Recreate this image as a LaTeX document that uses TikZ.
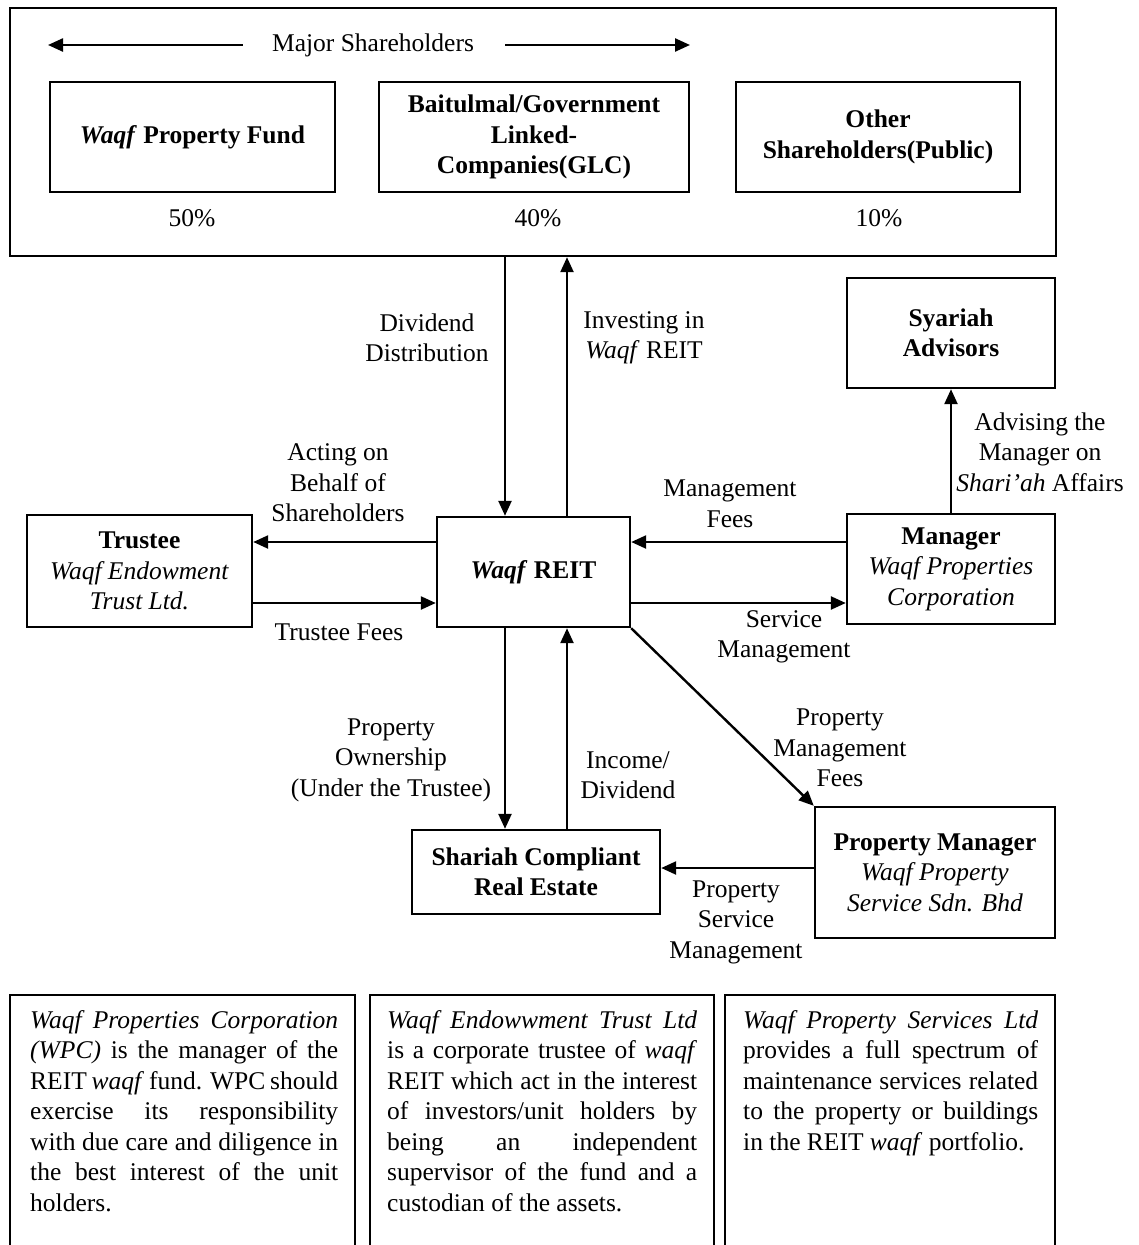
\documentclass[tikz,border=0pt]{standalone}
\usepackage{fontspec}
\setmainfont{Liberation Serif}
\usetikzlibrary{arrows.meta}
% one line of a justified paragraph, stretched to the given width
\newcommand\jline[2]{\makebox[#1][s]{#2}}
\begin{document}
\begin{tikzpicture}[x=1pt,y=-1pt,
  txt/.style={font=\fontsize{25.5}{30.5}\selectfont, inner sep=0pt, align=center},
  bftxt/.style={font=\fontsize{25.5}{30.5}\selectfont\bfseries, inner sep=0pt, align=center},
  bx/.style 2 args={draw, line width=2.4pt, minimum width=#1, minimum height=#2},
  arr/.style={line width=2.4pt, -{Triangle[length=15pt,width=13pt]}},
  rule/.style={line width=2.4pt},
  note/.style={font=\fontsize{25.5}{30.5}\selectfont, inner sep=0pt, align=left, anchor=north west}]
\useasboundingbox (0,0) rectangle (1139,1245);

% ---- shareholders block
\node[bx={1046pt}{248pt}] (top) at (533,132) {};
\node[txt] (ms) at (373,45) {Major Shareholders};
\coordinate (msl) at (48,45);
\coordinate (msr) at (690,45);
\draw[arr] ([xshift=-29pt]ms.west) -- (msl);
\draw[arr] ([xshift=31pt]ms.east) -- (msr);

\node[bftxt, bx={285pt}{110pt}] (wpf) at (192.5,137) {\textit{Waqf} Property Fund};
\node[bftxt, bx={310pt}{110pt}] (glc) at (534,137) {Baitulmal/Government\\Linked-\\Companies(GLC)};
\node[bftxt, bx={284pt}{110pt}] (oth) at (878,137) {Other\\Shareholders(Public)};
\node[txt] (p50) at (192,218) {50\%};
\node[txt] (p40) at (538,218) {40\%};
\node[txt] (p10) at (879,218) {10\%};

% ---- entities
\node[bftxt, bx={193pt}{110pt}] (reit) at (533.5,572) {\textit{Waqf} REIT};
\node[txt, bx={225pt}{112pt}] (trustee) at (139.5,571)
  {\textbf{Trustee}\\\textit{Waqf Endowment}\\\textit{Trust Ltd.}};
\node[bftxt, bx={208pt}{110pt}] (syariah) at (951,333) {Syariah\\Advisors};
\node[txt, bx={208pt}{110pt}] (manager) at (951,569)
  {\textbf{Manager}\\\textit{Waqf Properties}\\\textit{Corporation}};
\node[txt, bx={240pt}{131pt}] (pm) at (935,872.5)
  {\textbf{Property Manager}\\\textit{Waqf Property}\\\textit{Service Sdn. Bhd}};
\node[bftxt, bx={248pt}{84pt}] (scre) at (536,872) {Shariah Compliant\\Real Estate};

% ---- connector guides
\coordinate (vx1) at (505,0);
\coordinate (vx2) at (567,0);
\coordinate (hy1) at (0,542);
\coordinate (hy2) at (0,603);
\coordinate (hy3) at (0,868);

% ---- connectors
\draw[arr] (top.south -| vx1) -- (reit.north -| vx1);
\draw[arr] (reit.north -| vx2) -- (top.south -| vx2);
\draw[arr] (reit.west |- hy1) -- (trustee.east |- hy1);
\draw[arr] (trustee.east |- hy2) -- (reit.west |- hy2);
\draw[arr] (manager.west |- hy1) -- (reit.east |- hy1);
\draw[arr] (reit.east |- hy2) -- (manager.west |- hy2);
\draw[arr] (manager.north) -- (syariah.south);
\draw[arr] (reit.south -| vx1) -- (scre.north -| vx1);
\draw[arr] (scre.north -| vx2) -- (reit.south -| vx2);
\draw[arr] (reit.south east) -- (pm.north west);
\draw[arr] (pm.west |- hy3) -- (scre.east |- hy3);

% ---- connector labels
\node[txt] (l1) at (427,338) {Dividend\\Distribution};
\node[txt] (l2) at (644,338) {Investing in\\\textit{Waqf} REIT};
\node[txt] (l3) at (338,483) {Acting on\\Behalf of\\Shareholders};
\node[txt] (l4) at (339,632) {Trustee Fees};
\node[txt] (l5) at (1040,452) {Advising the\\Manager on\\\textit{Shari'ah} Affairs};
\node[txt] (l6) at (730,504) {Management\\Fees};
\node[txt] (l7) at (784,637) {Service\\Management};
\node[txt] (l8) at (840,748) {Property\\Management\\Fees};
\node[txt] (l9) at (391,760) {Property\\Ownership\\(Under the Trustee)};
\node[txt] (l10) at (628,775) {Income/\\Dividend};
\node[txt] (l11) at (736,922) {Property\\Service\\Management};

% ---- description panels (open at the foot of the page)
\draw[rule] (10,1260) -- (10,995) -- (355,995) -- (355,1260);
\draw[rule] (370,1260) -- (370,995) -- (714,995) -- (714,1260);
\draw[rule] (725,1260) -- (725,995) -- (1055,995) -- (1055,1260);

\node[note] (n1) at (30,1010) {%
  \jline{308pt}{\textit{Waqf Properties Corporation}}\\
  \jline{308pt}{\textit{(WPC)} is the manager of the}\\
  \jline{308pt}{REIT \textit{waqf} fund. WPC should}\\
  \jline{308pt}{exercise its responsibility}\\
  \jline{308pt}{with due care and diligence in}\\
  \jline{308pt}{the best interest of the unit}\\
  holders.};
\node[note] (n2) at (387,1010) {%
  \jline{310pt}{\textit{Waqf Endowwment Trust Ltd}}\\
  \jline{310pt}{is a corporate trustee of \textit{waqf}}\\
  \jline{310pt}{REIT which act in the interest}\\
  \jline{310pt}{of investors/unit holders by}\\
  \jline{310pt}{being an independent}\\
  \jline{310pt}{supervisor of the fund and a}\\
  custodian of the assets.};
\node[note] (n3) at (743,1010) {%
  \jline{295pt}{\textit{Waqf Property Services Ltd}}\\
  \jline{295pt}{provides a full spectrum of}\\
  \jline{295pt}{maintenance services related}\\
  \jline{295pt}{to the property or buildings}\\
  in the REIT \textit{waqf} portfolio.};
\end{tikzpicture}
\end{document}
